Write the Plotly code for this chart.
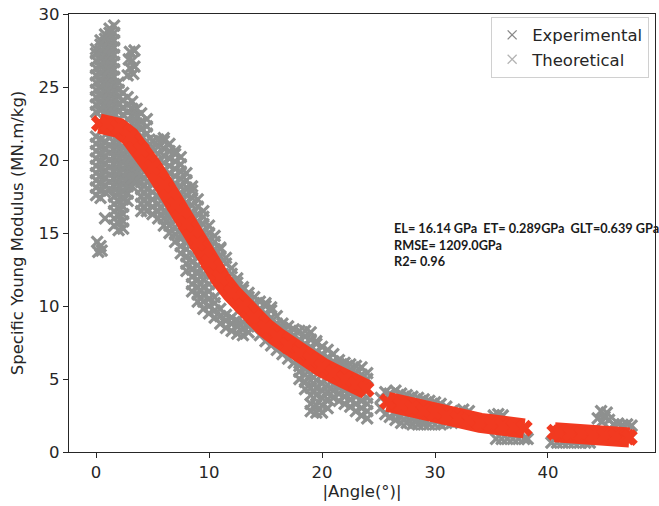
import plotly.graph_objects as go

# ---------------- data ----------------
# Experimental: dense column near 0 deg (per-column y values)
exp_col_x = [0.0, 0.4, 0.8, 1.2, 1.6, 2.0, 2.4, 2.8, 3.2, 3.6, 4.0]
exp_col_y = [
    [17.6, 18.1, 18.6, 19.1, 19.6, 20.1, 20.6, 21.1, 21.6, 23.3, 23.8, 24.3, 24.8, 25.3, 25.8, 26.3, 26.8, 27.3, 27.6],
    [17.4, 17.9, 18.4, 18.9, 19.4, 19.9, 20.4, 20.9, 21.4, 23.4, 23.9, 24.4, 24.9, 25.4, 25.9, 26.4, 26.9, 27.4, 27.9, 28.2],
    [17.8, 18.3, 18.8, 19.3, 19.8, 20.3, 20.8, 21.3, 23.3, 23.8, 24.3, 24.8, 25.3, 25.8, 26.3, 26.8, 27.3, 27.8, 28.3, 28.6],
    [18.0, 18.5, 19.0, 19.5, 20.0, 20.5, 21.0, 21.5, 23.2, 23.7, 24.2, 24.7, 25.2, 25.7, 26.2, 26.7, 27.2, 27.7, 28.2, 28.7, 29.0],
    [15.5, 16.0, 16.5, 17.0, 17.5, 18.2, 18.7, 19.2, 19.7, 20.2, 20.7, 21.2, 23.2, 23.7, 24.2, 24.7, 25.2, 25.7, 26.2, 26.7, 27.2, 27.7, 28.2, 28.7, 29.2],
    [15.2, 15.7, 16.2, 16.7, 17.2, 17.7, 18.2, 18.7, 19.2, 19.7, 20.2, 20.7, 21.2, 23.3, 23.8, 24.3, 24.8, 25.3],
    [15.3, 15.8, 16.3, 16.8, 17.3, 17.8, 18.3, 18.8, 19.3, 19.8, 20.3, 20.8, 23.1, 23.6, 24.1, 24.6],
    [17.2, 17.7, 18.2, 18.7, 19.2, 19.7, 20.2, 20.7, 22.8, 23.3, 23.8, 24.3],
    [18.2, 18.7, 19.2, 19.7, 20.2, 22.5, 23.0, 23.5, 24.0],
    [18.6, 19.1, 19.6, 20.1, 22.0, 22.5, 23.0, 23.5],
    [16.5, 17.0, 17.5, 18.0, 18.5, 19.0, 19.5, 21.6, 22.1, 22.6, 23.2],
]

# Experimental: band following the curve (per-column y values)
exp_band_x = [4.5, 5.0, 5.5, 6.0, 6.5, 7.0, 7.5, 8.0, 8.5, 9.0, 9.5, 10.0, 10.5, 11.0, 11.5, 12.0,
              12.5, 13.0, 13.5, 14.0, 14.5, 15.0, 15.5, 16.0, 16.5, 17.0, 17.5, 18.0, 18.5, 19.0,
              19.5, 20.0, 20.5, 21.0, 21.5, 22.0, 22.5, 23.0, 23.5, 24.0]
exp_band_y = [
    [16.5, 17.0, 17.5, 18.0, 18.5, 19.0, 21.3, 21.8, 22.3, 22.8],
    [16.3, 16.8, 17.3, 17.8, 18.3, 20.8, 21.3],
    [16.0, 16.5, 17.0, 17.5, 20.4, 20.9, 21.4],
    [15.5, 16.0, 16.5, 17.0, 19.8, 20.3, 20.8, 21.3, 21.5],
    [15.0, 15.5, 16.0, 16.3, 19.1, 19.6, 20.1, 20.6, 21.1],
    [14.4, 14.9, 15.4, 18.4, 18.9, 19.4, 19.9, 20.4, 20.6],
    [13.6, 14.1, 14.6, 14.9, 17.7, 18.2, 18.7, 19.2, 19.7, 20.2],
    [12.4, 12.9, 13.4, 13.9, 14.3, 17.1, 17.6, 18.1, 18.6, 19.1],
    [11.0, 11.5, 12.0, 12.5, 13.0, 13.5, 16.4, 16.9, 17.4, 17.9, 18.2],
    [10.3, 10.8, 11.3, 11.8, 12.3, 12.8, 15.8, 16.3, 16.8, 17.3],
    [9.8, 10.3, 10.8, 11.3, 11.8, 12.2, 15.1, 15.6, 16.1, 16.5],
    [9.5, 10.0, 10.5, 11.0, 11.5, 14.5, 15.0, 15.5],
    [9.2, 9.7, 10.2, 10.6, 13.9, 14.4, 14.8],
    [8.8, 9.3, 9.8, 13.4, 13.9, 14.0],
    [8.5, 9.0, 9.4, 12.9, 13.3],
    [8.3, 8.8, 9.2, 12.2, 12.6],
    [8.1, 8.6, 9.0, 11.6, 11.9],
    [8.0, 8.5, 8.9, 11.1, 11.3],
    [8.2, 8.6, 10.6, 10.9],
    [10.2, 10.6],
    [8.0, 9.8, 10.3],
    [7.6, 9.5, 10.0, 10.2],
    [7.3, 9.2, 9.7, 9.9],
    [7.0, 8.8, 9.3],
    [6.7, 8.5, 8.8],
    [6.4, 8.2, 8.6],
    [6.1, 8.0, 8.4],
    [5.0, 5.5, 5.9, 7.7, 8.3],
    [4.3, 4.8, 5.3, 5.7, 7.4, 7.9, 8.3],
    [2.8, 3.3, 3.9, 4.4, 4.9, 5.3, 7.2, 7.7, 8.2],
    [2.7, 3.2, 3.9, 4.4, 4.9, 6.9, 7.4, 7.6],
    [2.7, 3.2, 3.7, 4.2, 4.7, 6.7, 7.2],
    [3.0, 3.6, 4.1, 4.6, 6.5, 7.0],
    [3.7, 4.2, 4.6, 6.2, 6.7],
    [3.5, 4.0, 4.4, 6.0, 6.3],
    [3.3, 3.8, 4.2, 5.8, 6.1],
    [3.1, 3.6, 4.0, 5.6, 6.0],
    [2.8, 3.3, 3.8, 5.4, 5.9],
    [2.5, 3.0, 3.5, 5.3, 5.8],
    [2.3, 2.8, 3.3, 3.7, 5.0, 5.4],
]

# Experimental: isolated points and the low-modulus tail (x, y pairs)
exp_pts_x = [0.8, 0.2, 0.4, 0.1, 0.5,
             2.8, 3.0, 3.2, 3.0, 3.4, 3.3, 2.9, 3.4,
             25.2, 25.2, 25.6, 25.6, 26.0, 26.0, 26.5, 26.5, 26.5, 27.0, 27.0, 27.0,
             27.5, 27.5, 27.5, 28.0, 28.0, 28.0, 28.5, 28.5, 28.5, 29.0, 29.0, 29.0,
             29.5, 29.5, 30.0, 30.0, 30.5, 30.5, 31.0, 31.0, 31.5, 31.5, 32.0, 32.0,
             32.5, 33.0, 35.2, 35.6, 36.0,
             35.4, 35.9, 36.4, 36.9, 37.4, 37.9, 38.2,
             40.3, 40.8, 41.3, 41.8, 42.3, 42.8, 43.3, 43.7,
             44.4, 44.7, 45.0, 45.2, 44.8, 45.4,
             45.8, 46.2, 46.6, 47.0, 47.4]
exp_pts_y = [16.0, 13.7, 14.1, 14.4, 13.8,
             25.8, 26.3, 26.8, 27.4, 27.5, 25.9, 26.9, 26.4,
             3.0, 3.7, 2.6, 4.1, 2.4, 4.0, 2.2, 2.6, 4.2, 2.0, 2.4, 4.0,
             2.0, 2.4, 3.9, 1.9, 2.3, 3.8, 1.9, 2.2, 3.7, 1.9, 2.1, 3.6,
             1.9, 3.5, 1.9, 3.4, 1.9, 3.3, 2.0, 3.1, 2.0, 2.8, 2.1, 2.6,
             2.9, 2.8, 2.5, 2.6, 2.5,
             0.9, 0.9, 0.9, 0.9, 0.9, 0.9, 0.9,
             0.65, 0.65, 0.65, 0.65, 0.65, 0.65, 0.65, 0.65,
             2.3, 2.8, 2.4, 2.7, 2.1, 2.2,
             1.9, 1.95, 1.85, 1.9, 1.8]

# Theoretical curve, three segments
theo1_x = [0.3, 1, 2, 3, 4, 5, 6, 7, 8, 9, 10, 11, 12, 13, 14, 15, 16, 17, 18, 19, 20, 21, 22, 23, 23.9]
theo1_y = [22.5, 22.45, 22.2, 21.6, 20.7, 19.5, 18.3, 16.9, 15.6, 14.3, 13.0, 11.9, 10.9, 10.0, 9.2,
           8.5, 7.9, 7.3, 6.8, 6.3, 5.8, 5.4, 5.0, 4.6, 4.3]
theo2_x = [25.8, 27, 28, 29, 30, 31, 32, 33, 34, 35, 36, 37, 37.9]
theo2_y = [3.45, 3.2, 3.0, 2.8, 2.65, 2.45, 2.3, 2.15, 2.0, 1.9, 1.8, 1.7, 1.62]
theo3_x = [40.6, 41, 42, 43, 44, 45, 46, 47, 47.2]
theo3_y = [1.35, 1.32, 1.27, 1.22, 1.17, 1.12, 1.07, 1.02, 1.0]

x_ticks = [0, 10, 20, 30, 40]
y_ticks = [0, 5, 10, 15, 20, 25, 30]
stats_lines = ["EL= 16.14 GPa\u00a0 ET= 0.289GPa\u00a0 GLT=0.639 GPa", "RMSE= 1209.0GPa", "R2= 0.96"]

# ---------------- build ----------------
GRAY = "#8e908f"
RED = "#f23a20"
FONT = "DejaVu Sans"
TXT = "#262626"
FS = 16.5


def flatten(xs, yss):
    ox, oy = [], []
    for x, ys in zip(xs, yss):
        for y in ys:
            ox.append(x)
            oy.append(y)
    return ox, oy


cx, cy = flatten(exp_col_x, exp_col_y)
bx, by = flatten(exp_band_x, exp_band_y)
ex = cx + bx + exp_pts_x
ey = cy + by + exp_pts_y

theo_x = theo1_x + [None] + theo2_x + [None] + theo3_x
theo_y = theo1_y + [None] + theo2_y + [None] + theo3_y

fig = go.Figure()
fig.add_trace(go.Scatter(
    x=ex, y=ey, mode="markers", name="Experimental", showlegend=False,
    marker=dict(symbol="x-thin", size=11, color=GRAY, line=dict(width=3.2, color=GRAY)),
))
fig.add_trace(go.Scatter(
    x=theo_x, y=theo_y, mode="lines+markers", name="Theoretical", showlegend=False,
    line=dict(color=RED, width=20),
    marker=dict(symbol="x", size=15, color=RED),
))
# legend entries
fig.add_trace(go.Scatter(
    x=[None], y=[None], mode="markers", name="Experimental",
    marker=dict(symbol="x-thin", size=9, color="#8a8a8a", line=dict(width=1.3, color="#8a8a8a")),
))
fig.add_trace(go.Scatter(
    x=[None], y=[None], mode="markers", name="Theoretical",
    marker=dict(symbol="x-thin", size=9, color="#b4b4b4", line=dict(width=1.3, color="#b4b4b4")),
))

fig.add_annotation(
    x=26.2, y=16.05, xref="x", yref="y", xanchor="left", yanchor="top", align="left",
    text="<br>".join(stats_lines), showarrow=False,
    font=dict(family="Lato", size=12.7, color="#1a1a1a", weight="bold"),
)

axis_common = dict(
    showline=True, mirror=True, linecolor=TXT, linewidth=1.2,
    ticks="outside", ticklen=5, tickwidth=1.2, tickcolor=TXT,
    showgrid=False, zeroline=False, automargin=False, ticklabeloverflow="allow",
    tickfont=dict(family=FONT, size=FS, color=TXT),
)
fig.update_layout(
    width=659, height=506,
    margin=dict(l=69, r=4, t=14, b=54),
    paper_bgcolor="white", plot_bgcolor="white",
    xaxis=dict(range=[-2.39, 49.47], tickvals=x_ticks,
               title=dict(text="|Angle(°)|", font=dict(family=FONT, size=FS, color=TXT), standoff=4),
               **axis_common),
    yaxis=dict(range=[0, 30], tickvals=y_ticks,
               title=dict(text="Specific Young Modulus (MN.m/kg)", font=dict(family=FONT, size=FS, color=TXT), standoff=10),
               **axis_common),
    legend=dict(x=0.99, y=0.994, xanchor="right", yanchor="top",
                bgcolor="rgba(255,255,255,0.9)", bordercolor="#d0d0d0", borderwidth=1,
                font=dict(family=FONT, size=FS, color=TXT)),
)

fig.write_html(
    "out.html",
    config={"displayModeBar": False},
    post_script="document.body.style.margin='0';document.body.style.overflow='hidden';",
)
